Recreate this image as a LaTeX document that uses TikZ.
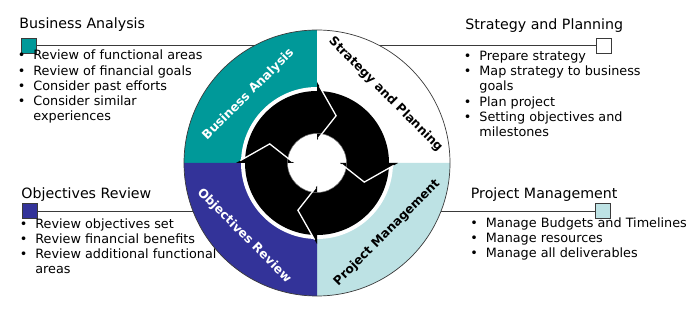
\documentclass[tikz,border=0pt]{standalone}
\usepackage{fontspec}
\setmainfont{DejaVu Sans}
\usetikzlibrary{positioning}
\definecolor{cyteal}{HTML}{009999}
\definecolor{cynavy}{HTML}{333399}
\definecolor{cylight}{HTML}{BDE2E4}
\definecolor{cygray}{HTML}{3A3A3A}
\newcommand{\bul}{\llap{\textbullet\hspace{8pt}}}

\begin{document}
\begin{tikzpicture}[
    x=1pt, y=1pt,
    line width=0.8pt,
    sq/.style={draw=cygray, line width=0.6pt, minimum size=15pt, inner sep=0pt},
    ttl/.style={anchor=base west, inner sep=0pt, font=\fontsize{14.2}{17}\selectfont},
    lst/.style={anchor=base west, inner sep=0pt, font=\fontsize{12.8}{15.2}\selectfont},
    ring/.style={inner sep=0pt, font=\fontsize{12.3}{14}\selectfont\bfseries},
  ]
  \useasboundingbox (-317,-147) rectangle (383,163);

  % ---- boxes and leader lines ----
  \node[sq, fill=cyteal]  (baSq) at (-288.5,117.5) {};
  \node[sq, fill=white]   (spSq) at (286.5,117.5) {};
  \node[sq, fill=cynavy]  (orSq) at (-287.5,-48) {};
  \node[sq, fill=cylight] (pmSq) at (286,-48) {};
  \draw[cygray] (baSq.east) -- (spSq.west);
  \draw[cygray] (orSq.east) -- (pmSq.west);

  % ---- titles ----
  \node[ttl] (baTtl) at (-298,134) {Business Analysis};
  \node[ttl] (spTtl) at (148,133) {Strategy and Planning};
  \node[ttl] (orTtl) at (-296,-35) {Objectives Review};
  \node[ttl] (pmTtl) at (153.5,-35) {Project Management};

  % ---- bullet lists ----
  \node[lst] (baLst) at (-284,103) {\begin{tabular}[t]{@{}l@{}}
    \bul Review of functional areas\\ \bul Review of financial goals\\
    \bul Consider past efforts\\ \bul Consider similar\\ experiences
  \end{tabular}};
  \node[lst] (spLst) at (162,102.5) {\begin{tabular}[t]{@{}l@{}}
    \bul Prepare strategy\\ \bul Map strategy to business\\ goals\\
    \bul Plan project\\ \bul Setting objectives and\\ milestones
  \end{tabular}};
  \node[lst] (orLst) at (-282,-65) {\begin{tabular}[t]{@{}l@{}}
    \bul Review objectives set\\ \bul Review financial benefits\\
    \bul Review additional functional\\ areas
  \end{tabular}};
  \node[lst] (pmLst) at (168.5,-64) {\begin{tabular}[t]{@{}l@{}}
    \bul Manage Budgets and Timelines\\ \bul Manage resources\\
    \bul Manage all deliverables
  \end{tabular}};

  % ---- quadrant ring ----
  \foreach \a/\c in {90/cyteal, 0/white, -90/cylight, 180/cynavy}
    \fill[\c] (0,0) -- (\a:133pt) arc[start angle=\a, end angle=\a+90, radius=133pt] -- cycle;
  \draw[cygray, line width=0.7pt] (0,0) circle (133pt);
  \fill[white] (0,0) circle (76pt);

  % ---- cycle arrows ----
  \foreach \a in {90, 0, -90, 180}
    \fill[black]
      (\a+90:72pt) arc[start angle=\a+90, end angle=\a, radius=72pt]
      -- (\a:81pt) -- (\a-22:51pt) -- (\a:23pt) -- (\a:29.5pt)
      arc[start angle=\a, end angle=\a+90, radius=29.5pt]
      -- (\a+68:51pt) -- cycle;
  \draw[gray, line width=0.5pt] (0,0) circle (29.5pt);
  \foreach \a in {90, 0, -90, 180}
    \draw[white, line width=1.3pt, line join=miter, shorten <=5pt, shorten >=2pt]
      (\a:81pt) -- (\a-22:51pt) -- (\a:23pt);

  % ---- ring labels ----
  \node[ring, text=white, rotate=45]  (baRing) at (135:97pt) {Business Analysis};
  \node[ring, text=black, rotate=-45] (spRing) at (45:97pt) {Strategy and Planning};
  \node[ring, text=black, rotate=45]  (pmRing) at (-45:99pt) {Project Management};
  \node[ring, text=white, rotate=-45] (orRing) at (225:103pt) {Objectives Review};
\end{tikzpicture}
\end{document}
